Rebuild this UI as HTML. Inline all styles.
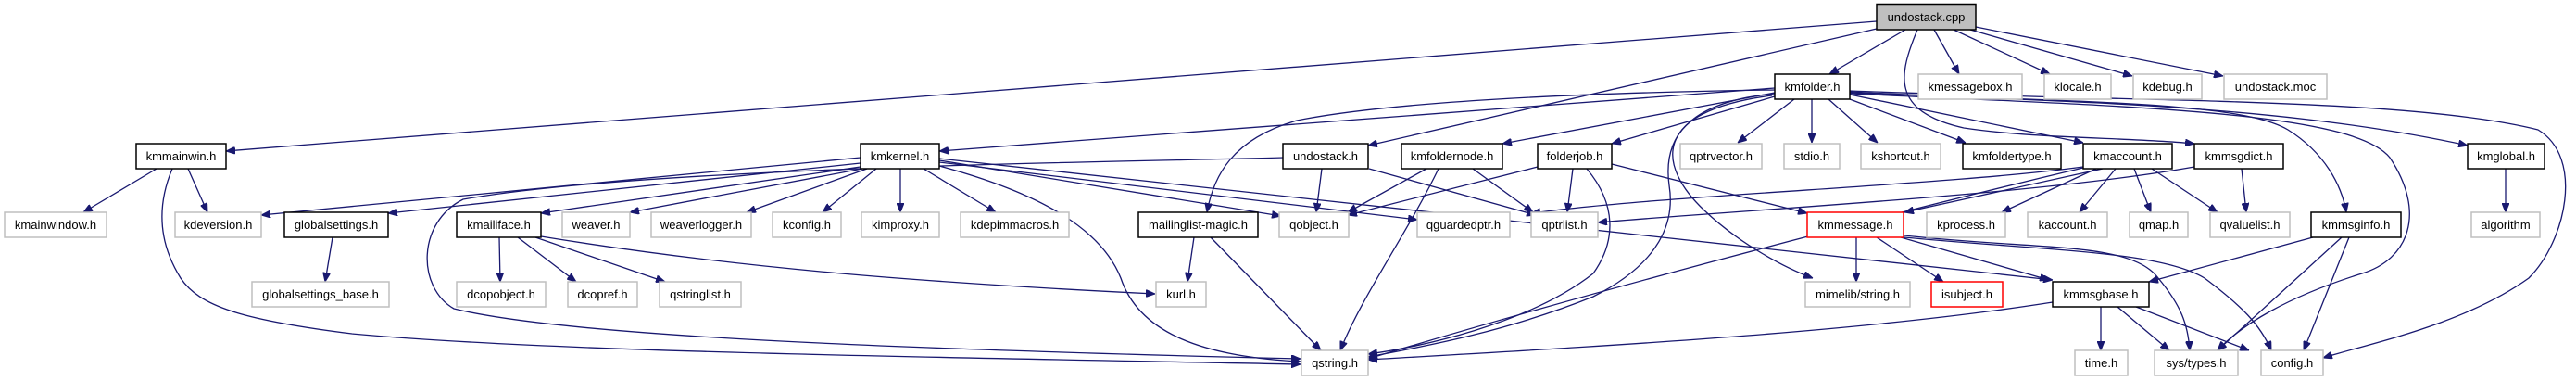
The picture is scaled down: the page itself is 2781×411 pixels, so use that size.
<!DOCTYPE html>
<html><head><meta charset="utf-8"><style>
html,body{margin:0;padding:0;background:#fff;}
svg{display:block;}
text{font-family:"Liberation Sans",Arial,sans-serif;font-size:13px;fill:#000;text-anchor:middle;}
.e{fill:none;stroke:#191970;stroke-width:1.3;marker-end:url(#a);}
.n{fill:#fff;stroke:#bfbfbf;stroke-width:1.5;}
.b{fill:#fff;stroke:#000;stroke-width:1.5;}
.r{fill:#fff;stroke:#ff0000;stroke-width:1.5;}
</style></head><body>
<svg width="2781" height="411" viewBox="0 0 2781 411" xmlns="http://www.w3.org/2000/svg">
<defs><marker id="a" viewBox="0 0 10 8" refX="10" refY="4" markerWidth="10" markerHeight="8" markerUnits="userSpaceOnUse" orient="auto"><path d="M0,0 L10,4 L0,8 z" fill="#191970" stroke="#191970"/></marker></defs>
<g>
<path class="e" d="M2026,23 L244,163"/>
<path class="e" d="M2057,32 L1975,80"/>
<path class="e" d="M2026,31 L1477,157"/>
<path class="e" d="M2088,32 L2115,80"/>
<path class="e" d="M2109,32 L2213,80"/>
<path class="e" d="M2127,32 L2302,82"/>
<path class="e" d="M2133,29 L2400,82"/>
<path class="e" d="M2070,32 C2050,80 2040,120 2120,138 C2200,150 2300,148 2369,155"/>
<path class="e" d="M1916,95 L1014,163"/>
<path class="e" d="M1916,97 C1700,100 1500,110 1400,130 C1330,150 1310,190 1303,229"/>
<path class="e" d="M1916,100 L1622,155"/>
<path class="e" d="M1916,104 L1740,155"/>
<path class="e" d="M1937,107 L1876,154"/>
<path class="e" d="M1956,107 L1956,154"/>
<path class="e" d="M1974,107 L2027,154"/>
<path class="e" d="M1997,107 L2122,154"/>
<path class="e" d="M1997,102 L2249,154"/>
<path class="e" d="M1997,99 C2200,110 2450,110 2664,157"/>
<path class="e" d="M1997,98 C2300,110 2600,105 2740,140 C2790,170 2770,260 2730,300 C2660,350 2560,370 2508,386"/>
<path class="e" d="M1997,100 C2250,110 2420,110 2470,140 C2510,165 2528,200 2533,229"/>
<path class="e" d="M1997,101 C2300,115 2540,120 2580,170 C2620,230 2600,280 2550,295 C2470,320 2420,350 2394,378"/>
<path class="e" d="M1913,103 C1780,120 1790,180 1840,227 C1880,265 1930,290 1957,300"/>
<path class="e" d="M1916,101 C1820,110 1795,150 1802,200 C1810,250 1780,290 1720,320 C1620,360 1530,375 1477,385"/>
<path class="e" d="M929,170 L282,232"/>
<path class="e" d="M929,176 L419,230"/>
<path class="e" d="M929,180 L584,230"/>
<path class="e" d="M931,182 L680,229"/>
<path class="e" d="M936,182 L806,229"/>
<path class="e" d="M946,182 L888,229"/>
<path class="e" d="M972,182 L972,229"/>
<path class="e" d="M997,182 L1075,229"/>
<path class="e" d="M1014,173 L1383,233"/>
<path class="e" d="M1014,175 L1530,237"/>
<path class="e" d="M1014,171 L2216,302"/>
<path class="e" d="M1014,179 C1130,210 1190,250 1210,300 C1230,360 1300,385 1404,390"/>
<path class="e" d="M1385,170 C1200,175 700,180 500,215 C450,240 450,310 490,333 C600,360 900,375 1404,387"/>
<path class="e" d="M1427,182 L1421,229"/>
<path class="e" d="M1478,182 L1658,232"/>
<path class="e" d="M169,182 L90,229"/>
<path class="e" d="M203,182 L224,229"/>
<path class="e" d="M186,182 C170,220 170,260 195,300 C215,330 260,345 380,360 C600,380 1000,385 1404,393"/>
<path class="e" d="M359,256 L351,304"/>
<path class="e" d="M539,256 L540,304"/>
<path class="e" d="M559,256 L622,304"/>
<path class="e" d="M578,256 L718,304"/>
<path class="e" d="M584,255 C800,290 1000,305 1247,317"/>
<path class="e" d="M1540,182 L1455,229"/>
<path class="e" d="M1590,182 L1655,229"/>
<path class="e" d="M1553,182 C1520,250 1470,320 1447,378"/>
<path class="e" d="M1660,180 L1455,232"/>
<path class="e" d="M1698,182 L1692,229"/>
<path class="e" d="M1713,182 C1745,220 1745,260 1720,295 C1650,350 1530,375 1477,382"/>
<path class="e" d="M1740,177 L1951,230"/>
<path class="e" d="M1289,256 L1282,304"/>
<path class="e" d="M1307,256 L1426,378"/>
<path class="e" d="M2249,180 C2100,200 1800,210 1653,230"/>
<path class="e" d="M2270,182 L2056,229"/>
<path class="e" d="M2263,182 L2161,229"/>
<path class="e" d="M2284,182 L2245,229"/>
<path class="e" d="M2304,182 L2322,229"/>
<path class="e" d="M2323,182 L2394,229"/>
<path class="e" d="M2249,181 C2000,240 1700,320 1477,387"/>
<path class="e" d="M2369,180 C2200,210 1900,225 1725,240"/>
<path class="e" d="M2420,182 L2425,229"/>
<path class="e" d="M2705,182 L2705,229"/>
<path class="e" d="M2004,256 L2004,304"/>
<path class="e" d="M2026,256 L2098,304"/>
<path class="e" d="M2052,256 L2212,302"/>
<path class="e" d="M2056,254 C2200,270 2300,260 2330,300 C2355,330 2362,350 2364,378"/>
<path class="e" d="M2056,256 C2200,270 2330,270 2380,300 C2420,330 2440,350 2452,378"/>
<path class="e" d="M2497,256 L2320,304"/>
<path class="e" d="M2528,256 L2394,378"/>
<path class="e" d="M2536,256 L2487,378"/>
<path class="e" d="M2268,331 L2268,378"/>
<path class="e" d="M2286,331 L2342,378"/>
<path class="e" d="M2306,331 L2428,378"/>
<path class="e" d="M2216,326 C2000,360 1700,375 1477,388"/>
</g>
<g>
<rect x="2026" y="4.5" width="107" height="27.5" fill="#bfbfbf" stroke="#000" stroke-width="1.5"/><text x="2079.5" y="23">undostack.cpp</text>
<rect class="b" x="1916" y="80" width="81" height="27"/><text x="1956.5" y="98">kmfolder.h</text>
<rect class="n" x="2071" y="80" width="112" height="27"/><text x="2127" y="98">kmessagebox.h</text>
<rect class="n" x="2207" y="80" width="72" height="27"/><text x="2243" y="98">klocale.h</text>
<rect class="n" x="2303" y="80" width="74" height="27"/><text x="2340" y="98">kdebug.h</text>
<rect class="n" x="2401" y="80" width="111" height="27"/><text x="2456.5" y="98">undostack.moc</text>

<rect class="b" x="147" y="155" width="97" height="27"/><text x="195.5" y="173">kmmainwin.h</text>
<rect class="b" x="929" y="155" width="85" height="27"/><text x="971.5" y="173">kmkernel.h</text>
<rect class="b" x="1385" y="155" width="92" height="27"/><text x="1431" y="173">undostack.h</text>
<rect class="b" x="1513" y="155" width="109" height="27"/><text x="1567.5" y="173">kmfoldernode.h</text>
<rect class="b" x="1660" y="155" width="80" height="27"/><text x="1700" y="173">folderjob.h</text>
<rect class="n" x="1814" y="155" width="88" height="27"/><text x="1858" y="173">qptrvector.h</text>
<rect class="n" x="1926" y="155" width="60" height="27"/><text x="1956" y="173">stdio.h</text>
<rect class="n" x="2009" y="155" width="86" height="27"/><text x="2052" y="173">kshortcut.h</text>
<rect class="b" x="2119" y="155" width="106" height="27"/><text x="2172" y="173">kmfoldertype.h</text>
<rect class="b" x="2249" y="155" width="96" height="27"/><text x="2297" y="173">kmaccount.h</text>
<rect class="b" x="2369" y="155" width="96" height="27"/><text x="2417" y="173">kmmsgdict.h</text>
<rect class="b" x="2664" y="155" width="83" height="27"/><text x="2705.5" y="173">kmglobal.h</text>

<rect class="n" x="5" y="229" width="110" height="27"/><text x="60" y="247">kmainwindow.h</text>
<rect class="n" x="189" y="229" width="93" height="27"/><text x="235.5" y="247">kdeversion.h</text>
<rect class="b" x="307" y="229" width="112" height="27"/><text x="363" y="247">globalsettings.h</text>
<rect class="b" x="493" y="229" width="91" height="27"/><text x="538.5" y="247">kmailiface.h</text>
<rect class="n" x="607" y="229" width="73" height="27"/><text x="643.5" y="247">weaver.h</text>
<rect class="n" x="703" y="229" width="108" height="27"/><text x="757" y="247">weaverlogger.h</text>
<rect class="n" x="834" y="229" width="74" height="27"/><text x="871" y="247">kconfig.h</text>
<rect class="n" x="930" y="229" width="84" height="27"/><text x="972" y="247">kimproxy.h</text>
<rect class="n" x="1037" y="229" width="117" height="27"/><text x="1095.5" y="247">kdepimmacros.h</text>
<rect class="b" x="1229" y="229" width="129" height="27"/><text x="1293.5" y="247">mailinglist-magic.h</text>
<rect class="n" x="1381" y="229" width="75" height="27"/><text x="1418.5" y="247">qobject.h</text>
<rect class="n" x="1530" y="229" width="100" height="27"/><text x="1580" y="247">qguardedptr.h</text>
<rect class="n" x="1653" y="229" width="72" height="27"/><text x="1689" y="247">qptrlist.h</text>
<rect class="r" x="1951" y="229" width="104" height="27"/><text x="2003" y="247">kmmessage.h</text>
<rect class="n" x="2080" y="229" width="85" height="27"/><text x="2122.5" y="247">kprocess.h</text>
<rect class="n" x="2189" y="229" width="86" height="27"/><text x="2232" y="247">kaccount.h</text>
<rect class="n" x="2299" y="229" width="63" height="27"/><text x="2330.5" y="247">qmap.h</text>
<rect class="n" x="2386" y="229" width="86" height="27"/><text x="2429" y="247">qvaluelist.h</text>
<rect class="b" x="2495" y="229" width="97" height="27"/><text x="2543.5" y="247">kmmsginfo.h</text>
<rect class="n" x="2668" y="229" width="74" height="27"/><text x="2705" y="247">algorithm</text>

<rect class="n" x="272" y="304" width="148" height="27"/><text x="346" y="322">globalsettings_base.h</text>
<rect class="n" x="493" y="304" width="96" height="27"/><text x="541" y="322">dcopobject.h</text>
<rect class="n" x="613" y="304" width="75" height="27"/><text x="650.5" y="322">dcopref.h</text>
<rect class="n" x="712" y="304" width="88" height="27"/><text x="756" y="322">qstringlist.h</text>
<rect class="n" x="1248" y="304" width="54" height="27"/><text x="1275" y="322">kurl.h</text>
<rect class="n" x="1949" y="304" width="113" height="27"/><text x="2005.5" y="322">mimelib/string.h</text>
<rect class="r" x="2085" y="304" width="77" height="27"/><text x="2123.5" y="322">isubject.h</text>
<rect class="b" x="2216" y="304" width="104" height="27"/><text x="2268" y="322">kmmsgbase.h</text>

<rect class="n" x="1405" y="378" width="72" height="27"/><text x="1441" y="396">qstring.h</text>
<rect class="n" x="2240" y="378" width="57" height="27"/><text x="2268.5" y="396">time.h</text>
<rect class="n" x="2326" y="378" width="90" height="27"/><text x="2371" y="396">sys/types.h</text>
<rect class="n" x="2441" y="378" width="67" height="27"/><text x="2474.5" y="396">config.h</text>
</g>
</svg>
</body></html>
